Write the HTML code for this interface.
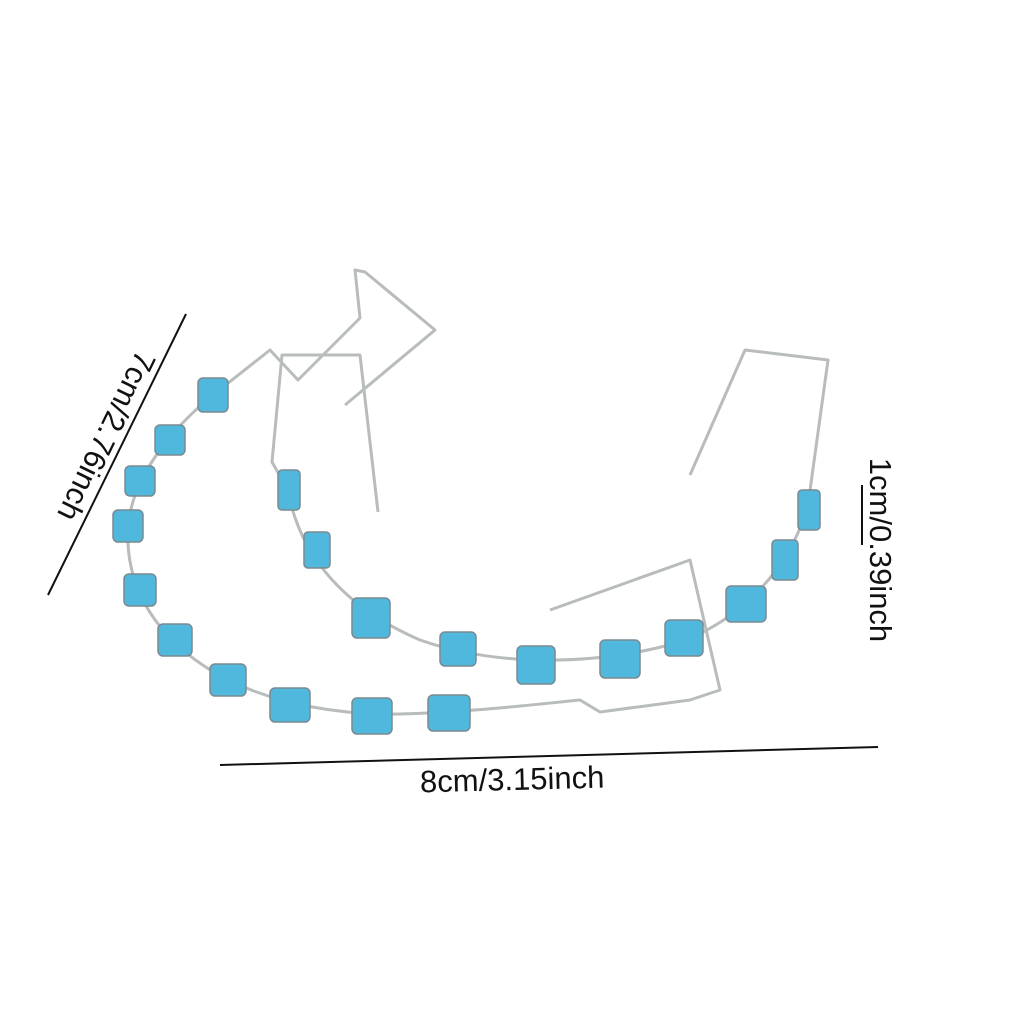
<!DOCTYPE html>
<html><head><style>
body{margin:0;width:1024px;height:1024px;background:#fff;overflow:hidden;position:relative;font-family:"Liberation Sans",sans-serif}
.t{position:absolute;font-size:31px;color:#111;white-space:nowrap;transform-origin:center}
</style></head><body>
<svg width="1024" height="1024" style="position:absolute;left:0;top:0">
<g fill="none" stroke="#b8bcbc" stroke-width="3" stroke-linejoin="round">
<path d="M213,395 C170,430 130,480 128,530 C125,600 170,650 228,680 C280,705 340,715 400,714 C470,712 530,705 580,700 L600,712 L690,700 L720,690 L690,560 L550,610"/>
<path d="M213,395 L270,350 L298,380 L360,318 L355,270 L365,272 L435,330 L345,405"/>
<path d="M288,490 C300,560 350,610 420,640 C500,668 600,665 680,642 C740,620 790,570 808,505 L828,360 L745,350 L690,475"/>
<path d="M288,490 L272,462 L282,355 L360,355 L378,512"/>
</g>
<g stroke="#111" stroke-width="2">
<line x1="48" y1="595" x2="186" y2="314"/>
<line x1="220" y1="765" x2="878" y2="747"/>
<line x1="862" y1="485" x2="862" y2="545"/>
</g>
<g fill="#4fb8dc" stroke="#7a8a90" stroke-width="1.5">
<rect x="198" y="378" width="30" height="34" rx="5"/>
<rect x="155" y="425" width="30" height="30" rx="5"/>
<rect x="125" y="466" width="30" height="30" rx="5"/>
<rect x="113" y="510" width="30" height="32" rx="5"/>
<rect x="124" y="574" width="32" height="32" rx="5"/>
<rect x="158" y="624" width="34" height="32" rx="5"/>
<rect x="210" y="664" width="36" height="32" rx="5"/>
<rect x="270" y="688" width="40" height="34" rx="5"/>
<rect x="352" y="698" width="40" height="36" rx="5"/>
<rect x="428" y="695" width="42" height="36" rx="5"/>
<rect x="278" y="470" width="22" height="40" rx="4"/>
<rect x="304" y="532" width="26" height="36" rx="4"/>
<rect x="352" y="598" width="38" height="40" rx="5"/>
<rect x="440" y="632" width="36" height="34" rx="5"/>
<rect x="517" y="646" width="38" height="38" rx="5"/>
<rect x="600" y="640" width="40" height="38" rx="5"/>
<rect x="665" y="620" width="38" height="36" rx="5"/>
<rect x="726" y="586" width="40" height="36" rx="5"/>
<rect x="772" y="540" width="26" height="40" rx="4"/>
<rect x="798" y="490" width="22" height="40" rx="4"/>
</g>
</svg>
<div class="t" style="left:8px;top:418px;width:196px;text-align:center;transform:rotate(116deg)">7cm/2.76inch</div>
<div class="t" style="left:780px;top:532px;width:200px;text-align:center;transform:rotate(90deg)">1cm/0.39inch</div>
<div class="t" style="left:420px;top:762px;transform:rotate(-1.5deg)">8cm/3.15inch</div>
</body></html>
